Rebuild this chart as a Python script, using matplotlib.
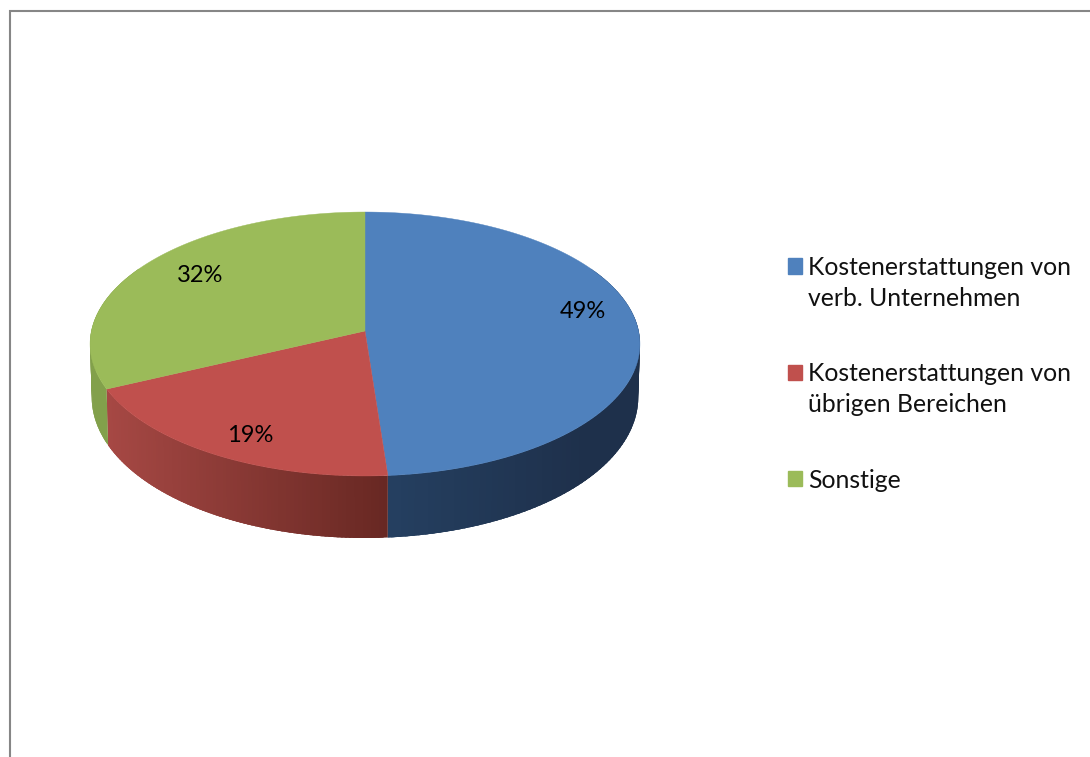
import numpy as np
import matplotlib
matplotlib.use("Agg")
import matplotlib.pyplot as plt
from matplotlib.patches import Patch

# shares of the pie, clockwise from 12 o'clock (unrounded estimate, labels are rounded)
categories = ["Kostenerstattungen von\nverb. Unternehmen",
              "Kostenerstattungen von\nübrigen Bereichen",
              "Sonstige"]
values = [48.8, 19.2, 32.0]
value_labels = ["49%", "19%", "32%"]

top_colors = ["#4f81bd", "#c0504d", "#9bbb59"]
green_wall = np.array([130, 160, 75]) / 255
wall_left = {0: np.array([37, 64, 97]) / 255, 1: np.array([166, 72, 68]) / 255}
wall_right = {0: np.array([30, 48, 75]) / 255, 1: np.array([104, 40, 35]) / 255}

CX, CY = 365, 331
A, B, K = 130.7, 273.6, 0.0985
label_pos = [(583, 312), (250, 436), (200, 275)]


def top_rim(theta):
    u, v = np.sin(theta), np.cos(theta)
    den = 1 + K * v
    return CX + B * u / den, CY - A * v / den


def bottom_rim(theta):
    x, y = top_rim(theta)
    return CX + (x - CX) * 0.994, y + 52 - 10 * np.cos(theta)


plt.rcParams["font.family"] = ["Lato", "DejaVu Sans"]
fig = plt.figure(figsize=(10.9, 7.57), dpi=100)
ax = fig.add_axes([0, 0, 1, 1])
ax.set_xlim(0, 1090)
ax.set_ylim(757, 0)
ax.axis("off")

# chart frame, runs off the right and bottom edges
ax.plot([9.5, 9.5, 1095], [765, 11, 11], color="#868686", lw=1.5, solid_joinstyle="miter")

edges = np.radians(np.cumsum([0] + values) / sum(values) * 360)

# side walls first, the top surface covers what sticks out
for i in range(3):
    t0 = max(edges[i], np.radians(60))
    t1 = min(edges[i + 1], np.radians(300))
    ts = np.linspace(t0, t1, 90)
    step = ts[1] - ts[0]
    # strips overlap the next ones so no white seam shows between them
    for a in ts[:-1]:
        tt = np.linspace(a, min(a + 2.5 * step, t1), 5)
        xt, yt = top_rim(tt)
        xb, yb = bottom_rim(tt)
        if i == 0:
            f = np.clip((xt[0] - 388) / 200, 0, 1)
            c = wall_left[0] + (wall_right[0] - wall_left[0]) * f
        elif i == 1:
            f = np.clip((388 - xt[0]) / 279, 0, 1)
            c = wall_right[1] + (wall_left[1] - wall_right[1]) * f
        else:
            c = green_wall
        ax.fill(np.r_[xt, xb[::-1]], np.r_[yt, yb[::-1]], color=c, lw=0)

# top surface
for i in range(3):
    ts = np.linspace(edges[i], edges[i + 1], 200)
    x, y = top_rim(ts)
    ax.fill(np.r_[CX, x], np.r_[CY, y], color=top_colors[i], lw=0.3)

for txt, (px, py) in zip(value_labels, label_pos):
    ax.text(px, py, txt, ha="center", va="center", fontsize=17, color="black")

handles = [Patch(color=c) for c in top_colors]
leg = ax.legend(handles, categories, loc="upper left", bbox_to_anchor=(788, 256),
                bbox_transform=ax.transData, frameon=False, fontsize=17.8,
                handlelength=0.57, handleheight=0.57, handletextpad=0.24,
                labelspacing=2.13, borderpad=0, borderaxespad=0,
                alignment="left", labelcolor="#111111")
for t in leg.get_texts():
    t.set_linespacing(1.4)
# squares sit beside the first line of a two-line entry
for p, name in zip(leg.get_patches(), categories):
    if "\n" in name:
        p.set_y(p.get_y() + 12.6)

fig.savefig("out.png", dpi=100)
